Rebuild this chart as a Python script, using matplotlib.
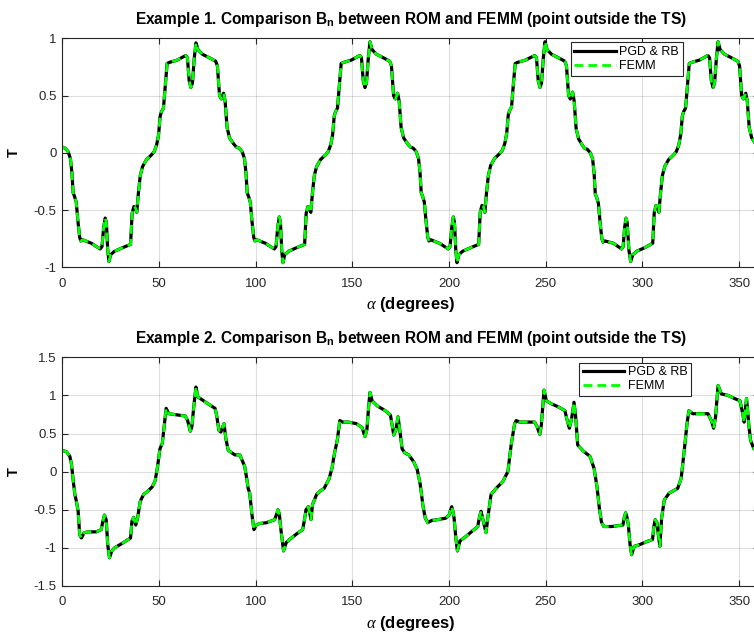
"""
Two stacked MATLAB-style line plots: B_n from ROM (PGD & RB) vs FEMM
Output: out.png (754x632)
"""
import matplotlib
matplotlib.use("Agg")
import matplotlib.pyplot as plt
from matplotlib.ticker import FormatStrFormatter

plt.rcParams["font.family"] = ["Liberation Sans", "DejaVu Sans"]
plt.rcParams["axes.unicode_minus"] = False
plt.rcParams["mathtext.fontset"] = "custom"
plt.rcParams["mathtext.rm"] = "Liberation Sans"
plt.rcParams["mathtext.bf"] = "Liberation Sans:bold"
plt.rcParams["mathtext.it"] = "Liberation Serif:italic"

# --- Example 1 (degrees / Tesla) ---
ex1_angle = [
    0.0, 1.5, 3.0, 4.2, 5.0, 5.6, 6.3, 7.2, 8.1, 9.0, 9.6, 10.6, 15.0, 19.6, 20.5, 21.4,
    22.2, 22.8, 23.5, 24.1, 25.0, 27.0, 31.0, 35.3, 36.1, 37.0, 37.8, 38.5, 39.3, 40.3,
    41.5, 43.5, 46.0, 47.5, 48.8, 49.8, 50.6, 51.3, 52.3, 53.3, 54.2, 55.5, 59.5, 63.8,
    64.7, 65.6, 66.5, 67.3, 68.2, 69.1, 70.2, 72.5, 76.0, 79.3, 80.2, 81.3, 82.2, 83.4,
    84.2, 85.2, 86.5, 88.5,
    90.0, 91.5, 93.0, 94.2, 95.0, 95.6, 96.3, 97.2, 98.1, 99.0, 99.6, 100.6, 105.0, 109.6,
    110.5, 111.4, 112.2, 112.8, 113.5, 114.1, 115.0, 117.0, 121.0, 125.3, 126.1, 127.0,
    127.8, 128.5, 129.3, 130.3, 131.5, 133.5, 136.0, 137.5, 138.8, 139.8, 140.6, 141.3,
    142.3, 143.3, 144.2, 145.5, 149.5, 153.8, 154.7, 155.6, 156.5, 157.3, 158.2, 159.1,
    160.2, 162.5, 166.0, 169.3, 170.2, 171.3, 172.2, 173.4, 174.2, 175.2, 176.5, 178.5,
    180.0, 181.5, 183.0, 184.2, 185.0, 185.6, 186.3, 187.2, 188.1, 189.0, 189.6, 190.6,
    195.0, 199.6, 200.5, 201.4, 202.2, 202.8, 203.5, 204.1, 205.0, 207.0, 211.0, 215.3,
    216.1, 217.0, 217.8, 218.5, 219.3, 220.3, 221.5, 223.5, 226.0, 227.5, 228.8, 229.8,
    230.6, 231.3, 232.3, 233.3, 234.2, 235.5, 239.5, 244.3, 245.2, 246.1, 247.0, 247.8,
    248.7, 249.6, 250.7, 253.0, 256.5, 259.8, 260.7, 261.8, 262.7, 263.9, 264.7, 265.7,
    267.0, 268.8,
    270.0, 271.5, 273.0, 274.2, 275.0, 275.6, 276.3, 277.2, 278.1, 279.0, 279.6, 280.6,
    285.0, 289.2, 290.0, 290.8, 291.5, 292.1, 293.0, 293.9, 295.0, 297.0, 301.0, 305.3,
    306.1, 307.0, 307.8, 308.5, 309.3, 310.3, 311.5, 313.5, 316.0, 317.5, 318.8, 319.8,
    320.6, 321.3, 322.3, 323.3, 324.2, 325.5, 329.5, 333.8, 334.7, 335.6, 336.5, 337.3,
    338.2, 339.1, 340.2, 342.5, 346.0, 349.3, 350.2, 351.3, 352.2, 353.4, 354.2, 355.2,
    356.5, 358.5, 360.0,
]
ex1_value = [
    0.05, 0.04, 0.01, -0.05, -0.18, -0.35, -0.38, -0.43, -0.60, -0.74, -0.77, -0.76, -0.79,
    -0.84, -0.82, -0.65, -0.57, -0.61, -0.85, -0.95, -0.89, -0.86, -0.83, -0.80, -0.53,
    -0.47, -0.48, -0.52, -0.36, -0.20, -0.12, -0.06, -0.02, 0.01, 0.07, 0.16, 0.32, 0.36,
    0.39, 0.60, 0.78, 0.79, 0.81, 0.85, 0.83, 0.63, 0.57, 0.61, 0.82, 0.96, 0.90, 0.86,
    0.83, 0.80, 0.76, 0.50, 0.47, 0.52, 0.45, 0.22, 0.13, 0.08,
    0.05, 0.04, 0.01, -0.05, -0.18, -0.35, -0.38, -0.43, -0.60, -0.74, -0.77, -0.76, -0.79,
    -0.84, -0.82, -0.65, -0.56, -0.61, -0.86, -0.96, -0.89, -0.86, -0.83, -0.80, -0.53,
    -0.47, -0.48, -0.52, -0.36, -0.20, -0.12, -0.06, -0.02, 0.01, 0.07, 0.16, 0.32, 0.36,
    0.39, 0.60, 0.78, 0.79, 0.81, 0.85, 0.83, 0.63, 0.57, 0.61, 0.82, 0.97, 0.90, 0.86,
    0.83, 0.80, 0.76, 0.50, 0.47, 0.52, 0.45, 0.22, 0.13, 0.08,
    0.05, 0.04, 0.01, -0.05, -0.18, -0.35, -0.38, -0.43, -0.60, -0.74, -0.77, -0.76, -0.79,
    -0.84, -0.82, -0.65, -0.56, -0.61, -0.86, -0.96, -0.89, -0.86, -0.83, -0.80, -0.52,
    -0.46, -0.47, -0.52, -0.36, -0.20, -0.11, -0.05, -0.01, 0.02, 0.08, 0.17, 0.33, 0.37,
    0.40, 0.61, 0.78, 0.79, 0.81, 0.85, 0.83, 0.63, 0.57, 0.61, 0.82, 0.97, 0.90, 0.86,
    0.83, 0.80, 0.76, 0.50, 0.47, 0.53, 0.45, 0.21, 0.12, 0.07,
    0.04, 0.03, 0.00, -0.05, -0.18, -0.36, -0.39, -0.44, -0.61, -0.75, -0.78, -0.77, -0.79,
    -0.84, -0.82, -0.65, -0.57, -0.61, -0.85, -0.95, -0.89, -0.86, -0.83, -0.79, -0.52,
    -0.46, -0.47, -0.52, -0.36, -0.20, -0.12, -0.06, -0.02, 0.01, 0.07, 0.16, 0.32, 0.36,
    0.39, 0.60, 0.78, 0.79, 0.81, 0.85, 0.83, 0.63, 0.57, 0.61, 0.82, 0.97, 0.90, 0.86,
    0.83, 0.80, 0.76, 0.50, 0.47, 0.52, 0.45, 0.22, 0.13, 0.08, 0.05,
]

# --- Example 2 ---
ex2_angle = [
    0.0, 2.2, 3.9, 4.8, 5.6, 6.5, 7.3, 8.2, 9.0, 9.9, 11.3, 13.3, 17.6, 20.1, 21.0, 21.8,
    22.7, 23.5, 24.4, 25.6, 27.0, 31.0, 35.3, 36.0, 36.9, 38.0, 38.9, 40.3, 42.0, 44.0,
    46.5, 48.0, 49.1, 50.5, 51.7, 52.9, 53.7, 55.1, 57.7, 63.6, 64.8, 66.2, 67.0, 67.9,
    69.1, 70.1, 73.0, 76.0, 79.0, 79.8, 81.0, 82.0, 83.6, 84.6, 85.8, 89.2,
    91.8, 94.3, 95.3, 96.1, 96.9, 98.0, 99.1, 100.3, 102.0, 105.5, 109.8, 110.8, 111.5,
    112.2, 113.0, 114.4, 115.8, 118.0, 121.0, 124.3, 125.3, 126.0, 127.2, 128.0, 128.6,
    129.4, 131.5, 133.5, 135.4, 138.0, 139.5, 140.6, 142.3, 143.5, 145.0, 148.0, 152.0,
    155.0, 156.5, 157.5, 158.4, 159.1, 160.2, 163.0, 167.0, 169.7, 170.5, 171.4, 172.5,
    173.6, 174.5, 175.7, 177.0, 179.1, 181.7, 183.5, 185.1, 186.5, 187.7, 189.0,
    191.0, 194.0, 198.3, 200.0, 200.8, 201.4, 202.0, 202.6, 203.5, 204.3, 205.6, 208.7,
    212.0, 214.8, 215.7, 216.5, 217.1, 217.7, 219.1, 220.0, 221.7, 224.3, 227.8, 230.4,
    232.1, 233.9, 234.7, 236.5, 244.3, 245.5, 246.9, 247.7, 249.1, 250.3, 252.9, 256.5,
    259.9, 260.8, 262.2, 263.4, 264.6, 265.4, 266.5, 269.4, 272.9, 275.0, 276.5, 277.8,
    278.8, 280.0,
    284.0, 289.9, 290.6, 291.3, 292.0, 292.7, 293.6, 294.4, 295.7, 298.3, 302.0, 305.2,
    305.9, 306.6, 307.5, 308.3, 309.0, 309.9, 311.3, 313.9, 318.2, 320.0, 321.7, 323.0,
    324.0, 326.0, 333.9, 335.6, 336.8, 337.8, 339.1, 340.8, 344.3, 347.5, 350.4, 351.7,
    352.6, 353.2, 353.8, 354.4, 355.0, 355.9, 357.6, 360.0,
]
ex2_value = [
    0.28, 0.26, 0.20, 0.09, -0.11, -0.30, -0.39, -0.52, -0.83, -0.87, -0.80, -0.79, -0.79,
    -0.76, -0.65, -0.57, -0.63, -0.96, -1.13, -1.04, -1.00, -0.94, -0.87, -0.65, -0.60,
    -0.70, -0.61, -0.39, -0.30, -0.26, -0.20, -0.12, 0.04, 0.30, 0.37, 0.65, 0.83, 0.76,
    0.75, 0.73, 0.67, 0.53, 0.59, 0.83, 1.11, 0.98, 0.93, 0.88, 0.83, 0.74, 0.54, 0.52,
    0.63, 0.43, 0.28, 0.22,
    0.22, 0.07, -0.08, -0.22, -0.28, -0.55, -0.76, -0.70, -0.68, -0.67, -0.63, -0.56,
    -0.50, -0.55, -0.75, -1.04, -0.93, -0.88, -0.82, -0.76, -0.62, -0.50, -0.46, -0.55,
    -0.63, -0.43, -0.30, -0.25, -0.22, -0.09, 0.05, 0.22, 0.43, 0.67, 0.65, 0.65, 0.63,
    0.58, 0.46, 0.55, 0.85, 1.04, 0.93, 0.86, 0.80, 0.74, 0.62, 0.48, 0.55, 0.72, 0.55,
    0.30, 0.25, 0.22, 0.13, 0.03, -0.17, -0.45, -0.61, -0.67,
    -0.64, -0.63, -0.61, -0.57, -0.50, -0.46, -0.52, -0.61, -0.87, -1.04, -0.91, -0.85,
    -0.78, -0.72, -0.60, -0.52, -0.58, -0.65, -0.80, -0.61, -0.30, -0.22, -0.13, 0.00,
    0.35, 0.63, 0.67, 0.65, 0.65, 0.59, 0.49, 0.61, 1.07, 0.93, 0.89, 0.85, 0.80, 0.70,
    0.57, 0.70, 0.91, 0.74, 0.35, 0.27, 0.20, 0.04, -0.20, -0.50, -0.66, -0.72,
    -0.72, -0.70, -0.60, -0.54, -0.60, -0.70, -0.96, -1.09, -0.98, -0.96, -0.92, -0.89,
    -0.72, -0.63, -0.67, -0.85, -0.98, -0.61, -0.37, -0.28, -0.22, -0.09, 0.30, 0.62,
    0.80, 0.76, 0.76, 0.67, 0.57, 0.72, 1.13, 1.02, 1.00, 0.96, 0.93, 0.78, 0.65, 0.80,
    0.96, 0.80, 0.61, 0.41, 0.30, 0.26,
]

x_ticks = [0, 50, 100, 150, 200, 250, 300, 350]
ex1_yticks = [-1, -0.5, 0, 0.5, 1]
ex2_yticks = [-1.5, -1, -0.5, 0, 0.5, 1, 1.5]
titles = [
    r"Example 1. Comparison B$_\mathbf{n}$ between ROM and FEMM (point outside the TS)",
    r"Example 2. Comparison B$_\mathbf{n}$ between ROM and FEMM (point outside the TS)",
]

W, H = 754, 632
AX_COLOR = "#262626"


def px_axes(fig, left, top, right, bottom):
    """axes from pixel box (origin top-left)"""
    return fig.add_axes([left / W, 1 - bottom / H, (right - left) / W, (bottom - top) / H])


def style_axes(ax, yticks, title):
    ax.set_xlim(0, 360)
    ax.set_ylim(yticks[0], yticks[-1])
    ax.set_xticks(x_ticks)
    ax.set_yticks(yticks)
    ax.xaxis.set_major_formatter(FormatStrFormatter("%g"))
    ax.yaxis.set_major_formatter(FormatStrFormatter("%g"))
    ax.grid(True, color=AX_COLOR, alpha=0.15, linewidth=0.8)
    ax.set_axisbelow(True)
    ax.tick_params(direction="in", length=4, width=0.8, top=True, right=True,
                   colors=AX_COLOR, labelsize=9.5)
    ax.tick_params(axis="x", pad=7.5)
    ax.tick_params(axis="y", pad=4)
    for sp in ax.spines.values():
        sp.set_color(AX_COLOR)
        sp.set_linewidth(0.8)
    ax.set_title(title, fontsize=11.2, fontweight="bold", pad=10)
    ax.set_xlabel(r"$\alpha$ (degrees)", fontsize=12, fontweight="bold", labelpad=4)
    ax.set_ylabel("T", fontsize=10.5, fontweight="bold", labelpad=9)


def draw(ax, angle, value, legend_xy):
    ax.plot(angle, value, color="black", linewidth=2.3, label="PGD & RB",
            solid_joinstyle="round")
    ax.plot(angle, value, color="#00ff00", linewidth=2.0, linestyle=(0, (3.2, 1.8)),
            label="FEMM")
    leg = ax.legend(loc="upper left", bbox_to_anchor=legend_xy,
                    bbox_transform=ax.figure.transFigure, borderaxespad=0,
                    fontsize=9, frameon=True, fancybox=False, framealpha=1,
                    edgecolor=AX_COLOR, handlelength=3.3, handletextpad=0.3,
                    labelspacing=0.15, borderpad=0.3)
    leg.get_frame().set_linewidth(0.8)


fig = plt.figure(figsize=(W / 100, H / 100), dpi=100)
ax1 = px_axes(fig, 62.3, 38.3, 758.5, 267.3)
ax2 = px_axes(fig, 62.3, 357.3, 758.5, 586.0)

style_axes(ax1, ex1_yticks, titles[0])
style_axes(ax2, ex2_yticks, titles[1])
draw(ax1, ex1_angle, ex1_value, (570.7 / W, 1 - 42.3 / H))
draw(ax2, ex2_angle, ex2_value, (579.0 / W, 1 - 362.7 / H))

fig.savefig("out.png", dpi=100)
plt.close(fig)
